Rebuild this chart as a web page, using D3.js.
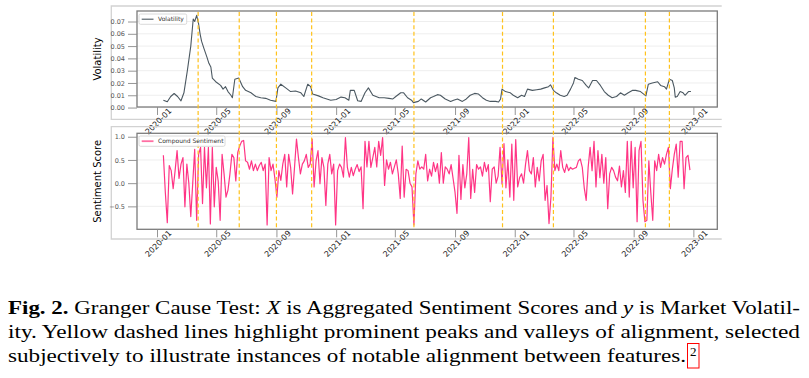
<!DOCTYPE html>
<html>
<head>
<meta charset="utf-8">
<script src="https://cdn.jsdelivr.net/npm/d3@7"></script>
<style>
body{margin:0;background:#fff}
</style>
</head>
<body>
<svg id="fig" width="809" height="378"></svg>
<script>
// volatility
var volDates = ['2020-01-14','2020-01-22','2020-01-29','2020-02-05','2020-02-12','2020-02-19','2020-02-25','2020-03-03','2020-03-10','2020-03-15',
  '2020-03-18','2020-03-22','2020-03-26','2020-03-29','2020-04-01','2020-04-06','2020-04-12','2020-04-16','2020-04-20','2020-04-23',
  '2020-04-30','2020-05-10','2020-05-15','2020-05-20','2020-05-25','2020-05-31','2020-06-03','2020-06-08','2020-06-16','2020-06-24',
  '2020-06-30','2020-07-11','2020-07-21','2020-07-31','2020-08-10','2020-08-20','2020-08-31','2020-09-04','2020-09-10','2020-09-20',
  '2020-09-30','2020-10-10','2020-10-21','2020-10-27','2020-11-04','2020-11-10','2020-11-14','2020-11-26','2020-12-05','2020-12-13',
  '2020-12-21','2021-01-01','2021-01-11','2021-01-19','2021-01-27','2021-01-30','2021-02-07','2021-02-14','2021-02-21','2021-03-01',
  '2021-03-08','2021-03-17','2021-03-30','2021-04-09','2021-04-19','2021-04-27','2021-05-03','2021-05-13','2021-05-19','2021-05-27',
  '2021-06-04','2021-06-08','2021-06-18','2021-06-24','2021-07-03','2021-07-13','2021-07-19','2021-07-27','2021-08-02','2021-08-12',
  '2021-08-23','2021-08-29','2021-09-06','2021-09-16','2021-09-24','2021-10-02','2021-10-11','2021-10-19','2021-10-27','2021-11-04',
  '2021-11-12','2021-11-23','2021-11-29','2021-12-03','2021-12-06','2021-12-13','2021-12-23','2021-12-29','2022-01-07','2022-01-15',
  '2022-01-21','2022-01-27','2022-02-06','2022-02-15','2022-02-23','2022-03-03','2022-03-11','2022-03-15','2022-03-21','2022-03-27',
  '2022-04-04','2022-04-12','2022-04-18','2022-04-25','2022-05-01','2022-05-04','2022-05-11','2022-05-19','2022-05-27','2022-06-01',
  '2022-06-09','2022-06-17','2022-06-25','2022-07-03','2022-07-11','2022-07-19','2022-07-28','2022-08-05','2022-08-13','2022-08-21',
  '2022-08-30','2022-09-05','2022-09-15','2022-09-26','2022-10-01','2022-10-09','2022-10-20','2022-10-26','2022-11-03','2022-11-07',
  '2022-11-13','2022-11-19','2022-11-23','2022-11-25','2022-11-29','2022-12-05','2022-12-11','2022-12-15','2022-12-22','2022-12-27']
var volValues = [0.006,0.0047,0.009,0.0114,0.009,0.0055,0.012,0.03,0.05,0.072,
  0.07,0.075,0.068,0.06,0.054,0.048,0.041,0.036,0.033,0.024,
  0.021,0.018,0.015,0.017,0.013,0.010,0.008,0.023,0.024,0.017,
  0.014,0.012,0.009,0.008,0.0075,0.006,0.005,0.016,0.019,0.016,
  0.013,0.0135,0.012,0.009,0.019,0.017,0.011,0.0095,0.008,0.007,
  0.006,0.0065,0.0085,0.008,0.006,0.014,0.014,0.0055,0.005,0.012,
  0.016,0.010,0.008,0.008,0.0075,0.007,0.009,0.012,0.012,0.008,
  0.006,0.004,0.005,0.007,0.0045,0.008,0.009,0.0105,0.010,0.007,
  0.005,0.006,0.007,0.005,0.007,0.010,0.0115,0.011,0.008,0.006,
  0.005,0.005,0.0045,0.007,0.015,0.013,0.012,0.010,0.008,0.010,
  0.009,0.015,0.014,0.0145,0.015,0.016,0.017,0.0185,0.014,0.012,
  0.010,0.009,0.010,0.015,0.020,0.0245,0.023,0.022,0.018,0.016,
  0.022,0.022,0.018,0.013,0.010,0.008,0.009,0.012,0.010,0.012,
  0.014,0.014,0.013,0.0095,0.019,0.020,0.021,0.018,0.017,0.015,
  0.023,0.022,0.016,0.0085,0.009,0.013,0.012,0.010,0.013,0.013]

// compound sentiment, one reading every 4 days from sentStart
var sentStart = '2020-01-14'
var sentStep = 4
var sentValues = [0.6,-0.2,-0.85,0.38,0.27,-0.12,0.27,0.7,0.1,0.41,
  0.55,-0.51,0.41,0.0,-0.72,0.0,0.73,-0.8,0.62,0.77,
  -0.44,0.77,-0.1,0.77,-0.88,0.77,-0.51,0.34,0.05,-0.8,
  0.62,0.2,-0.3,-0.15,0.2,0.62,0.55,0.05,0.66,0.8,
  0.9,0.92,0.48,0.45,0.3,0.48,0.27,0.41,0.27,0.38,
  0.45,0.27,0.41,-0.9,0.55,0.27,0.41,0.09,-0.3,0.27,
  0.06,0.41,0.62,-0.08,0.62,0.34,-0.23,0.34,0.95,0.55,
  0.2,0.41,0.48,0.62,0.34,0.41,0.95,-0.08,0.48,0.7,
  -0.01,0.55,0.34,-0.48,0.41,0.62,0.2,0.41,-0.9,0.27,
  0.41,0.34,0.13,0.98,0.34,0.13,0.34,0.16,
  0.3,0.4,0.25,0.35,-0.55,0.9,0.35,0.9,0.34,0.55,0.77,0.35,
  0.9,0.6,0.98,-0.05,0.5,0.3,0.45,0.2,0.35,0.5,
  0.2,-0.33,0.8,-0.3,0.3,0.27,0.0,-0.08,-0.9,0.2,
  0.48,0.3,0.35,0.3,0.62,0.05,0.3,0.15,0.45,0.25,
  0.42,0.0,0.66,0.0,0.35,0.3,0.2,0.4,0.1,-0.2,
  -0.65,0.6,-0.35,0.4,-0.1,0.2,0.98,-0.33,0.3,-0.2,
  0.4,0.3,0.35,0.15,0.45,0.25,0.4,-0.4,0.3,0.35,
  0.0,0.15,0.77,-0.02,0.85,-0.1,0.5,-0.3,0.84,-0.37,
  0.94,-0.08,0.12,0.2,0.0,0.4,0.7,0.27,0.2,0.55,
  -0.08,0.34,0.05,0.48,0.62,-0.37,-0.05,-0.87,-0.3,0.98,
  0.27,0.41,0.27,0.7,0.34,0.23,0.41,0.27,0.34,0.3,
  0.32,0.34,0.48,0.52,0.34,-0.1,-0.37,0.34,0.77,0.27,
  0.9,-0.08,0.7,0.12,0.62,0.0,0.55,-0.55,0.2,0.34,
  0.27,0.13,0.05,0.37,-0.08,0.27,-0.2,0.9,-0.3,0.9,
  -0.1,0.77,-0.83,0.7,0.9,-0.37,-0.83,-0.8,0.48,-0.2,
  -0.8,0.48,0.27,0.62,0.34,0.55,0.41,0.62,0.77,-0.12,
  0.3,0.62,0.84,0.13,0.9,0.9,-0.12,0.55,0.6,0.28]

// yellow dashed alignment markers
var markDates = ['2020-03-25','2020-06-17','2020-09-01','2020-11-12','2021-06-09','2021-12-07','2022-03-21','2022-09-25','2022-11-13']

var xTicks = ['2020-01','2020-05','2020-09','2021-01','2021-05','2021-09','2022-01','2022-05','2022-09','2023-01']
var volTicks = [0, 0.01, 0.02, 0.03, 0.04, 0.05, 0.06, 0.07]
var sentTicks = [-0.5, 0, 0.5, 1]

var SANS = '"DejaVu Sans", sans-serif'
var SERIF = '"Liberation Serif", "Times New Roman", "DejaVu Serif", serif'

var parse = d3.timeParse('%Y-%m-%d')
var vol = volDates.map(function(d, i){ return {date: parse(d), v: volValues[i]} })
var sent = sentValues.map(function(v, i){ return {date: d3.timeDay.offset(parse(sentStart), i * sentStep), v: v} })

var svg = d3.select('#fig')
svg.append('rect').attr('width', 809).attr('height', 378).attr('fill', '#fff')

var L = 137, R = 717.3, OL = 111.3, OR = 721.7

// matplotlib style 5% margins
function pad(e){ var r = e[1] - e[0]; return [e[0] - r * .05, e[1] + r * .05] }

var ext = d3.extent(vol.concat(sent), function(d){ return +d.date })
var x = d3.scaleTime().domain(pad(ext).map(function(t){ return new Date(t) })).range([L, R])

function panel(o){
  var g = svg.append('g').attr('font-family', SANS)
  var y = d3.scaleLinear().domain(pad(d3.extent(o.data, function(d){ return d.v }))).range([o.bottom, o.top])

  // light outer box
  g.append('path')
    .attr('d', 'M' + OR + ',' + o.outerTop + 'H' + OL + 'V' + o.outerBottom + 'H' + OR)
    .attr('fill', 'none').attr('stroke', '#d2d2d2').attr('stroke-width', 1.3)

  g.selectAll('line.grid').data(o.ticks).join('line').attr('class', 'grid')
    .attr('x1', L).attr('x2', R)
    .attr('y1', function(d){ return y(d) }).attr('y2', function(d){ return y(d) })
    .attr('stroke', '#ececec').attr('stroke-width', 0.9)

  g.append('clipPath').attr('id', o.id).append('rect')
    .attr('x', L).attr('y', o.top).attr('width', R - L).attr('height', o.bottom - o.top)

  var line = d3.line().x(function(d){ return x(d.date) }).y(function(d){ return y(d.v) })
  g.append('path').datum(o.data)
    .attr('clip-path', 'url(#' + o.id + ')')
    .attr('d', line)
    .attr('fill', 'none').attr('stroke', o.color).attr('stroke-width', o.width)
    .attr('stroke-opacity', o.opacity).attr('stroke-linejoin', 'round')

  g.append('rect').attr('x', L).attr('y', o.top).attr('width', R - L).attr('height', o.bottom - o.top)
    .attr('fill', 'none').attr('stroke', '#7b7b7b').attr('stroke-width', 1.3)

  var ya = g.append('g').attr('transform', 'translate(' + L + ',0)')
    .call(d3.axisLeft(y).tickValues(o.ticks).tickSize(9).tickPadding(3).tickFormat(o.fmt))
  ya.attr('font-family', SANS)
  ya.select('.domain').remove()
  ya.selectAll('line').attr('stroke', '#8a8a8a').attr('stroke-width', 0.9)
  ya.selectAll('text').attr('fill', '#555').attr('font-size', 6.5)

  var xa = g.append('g').attr('transform', 'translate(0,' + o.bottom + ')')
    .call(d3.axisBottom(x).tickValues(xTicks.map(d3.timeParse('%Y-%m'))).tickSize(8).tickFormat(''))
  xa.select('.domain').remove()
  xa.selectAll('line').attr('stroke', '#8a8a8a').attr('stroke-width', 0.9)

  g.selectAll('text.xl').data(xTicks).join('text').attr('class', 'xl')
    .attr('transform', function(d){ return 'translate(' + (x(d3.timeParse('%Y-%m')(d)) + 1.5) + ',' + (o.bottom + 14.5) + ') rotate(-45)' })
    .attr('text-anchor', 'middle').attr('dominant-baseline', 'central')
    .attr('font-size', 8).attr('fill', '#1a1a1a').text(function(d){ return d })

  g.append('text')
    .attr('transform', 'translate(101,' + (o.top + o.bottom) / 2 + ') rotate(-90)')
    .attr('text-anchor', 'middle').attr('font-size', 10).attr('fill', '#000').text(o.label)

  return y
}

panel({id: 'c1', top: 11, bottom: 107, outerTop: 6, outerBottom: 119.3, data: vol, ticks: volTicks,
  fmt: d3.format('.2f'), label: 'Volatility', color: '#4b5861', width: 1.1, opacity: 1})
panel({id: 'c2', top: 133.3, bottom: 229.3, outerTop: 126.7, outerBottom: 239, data: sent, ticks: sentTicks,
  fmt: function(d){ return d3.format('.1f')(d).replace('-', '\u2212') }, label: 'Sentiment Score', color: '#ff1f78', width: 1.2, opacity: 0.9})

svg.append('g').selectAll('line').data(markDates).join('line')
  .attr('x1', function(d){ return x(parse(d)) }).attr('x2', function(d){ return x(parse(d)) })
  .attr('y1', 12).attr('y2', 229.3)
  .attr('stroke', '#ffc21c').attr('stroke-width', 1.2).attr('stroke-dasharray', '4,2.6')

function legend(top, w, label, color, lw){
  var g = svg.append('g').attr('font-family', SANS)
  g.append('rect').attr('x', 139).attr('y', top).attr('width', w).attr('height', 10.3).attr('rx', 1.5)
    .attr('fill', '#fff').attr('fill-opacity', 0.85).attr('stroke', '#d0d0d0').attr('stroke-width', 0.8)
  g.append('line').attr('x1', 141.7).attr('x2', 153.5).attr('y1', top + 5.2).attr('y2', top + 5.2)
    .attr('stroke', color).attr('stroke-width', lw)
  g.append('text').attr('x', 158).attr('y', top + 7.3).attr('font-size', 6).attr('fill', '#333').text(label)
}
legend(14, 47.7, 'Volatility', '#4b5861', 1.1)
legend(136, 86, 'Compound Sentiment', '#ff6fa3', 1.8)

// caption
var cap = svg.append('g').attr('font-family', SERIF).attr('font-size', 19.5).attr('fill', '#000')
var l1 = cap.append('text').attr('x', 8).attr('y', 314)
  .attr('textLength', 792).attr('lengthAdjust', 'spacingAndGlyphs')
l1.append('tspan').attr('font-weight', 'bold').text('Fig. 2.')
l1.append('tspan').text(' Granger Cause Test: ')
l1.append('tspan').attr('font-style', 'italic').text('X')
l1.append('tspan').text(' is Aggregated Sentiment Scores and ')
l1.append('tspan').attr('font-style', 'italic').text('y')
l1.append('tspan').text(' is Market Volatil-')
cap.append('text').attr('x', 8).attr('y', 338)
  .attr('textLength', 792).attr('lengthAdjust', 'spacingAndGlyphs')
  .text('ity. Yellow dashed lines highlight prominent peaks and valleys of alignment, selected')
cap.append('text').attr('x', 8).attr('y', 362)
  .attr('textLength', 678).attr('lengthAdjust', 'spacingAndGlyphs')
  .text('subjectively to illustrate instances of notable alignment between features.')
cap.append('rect').attr('x', 687.5).attr('y', 343.5).attr('width', 11.5).attr('height', 24.5)
  .attr('fill', 'none').attr('stroke', '#ff0000').attr('stroke-width', 1)
cap.append('text').attr('x', 690).attr('y', 356).attr('font-size', 13).text('2')
</script>
</body>
</html>
